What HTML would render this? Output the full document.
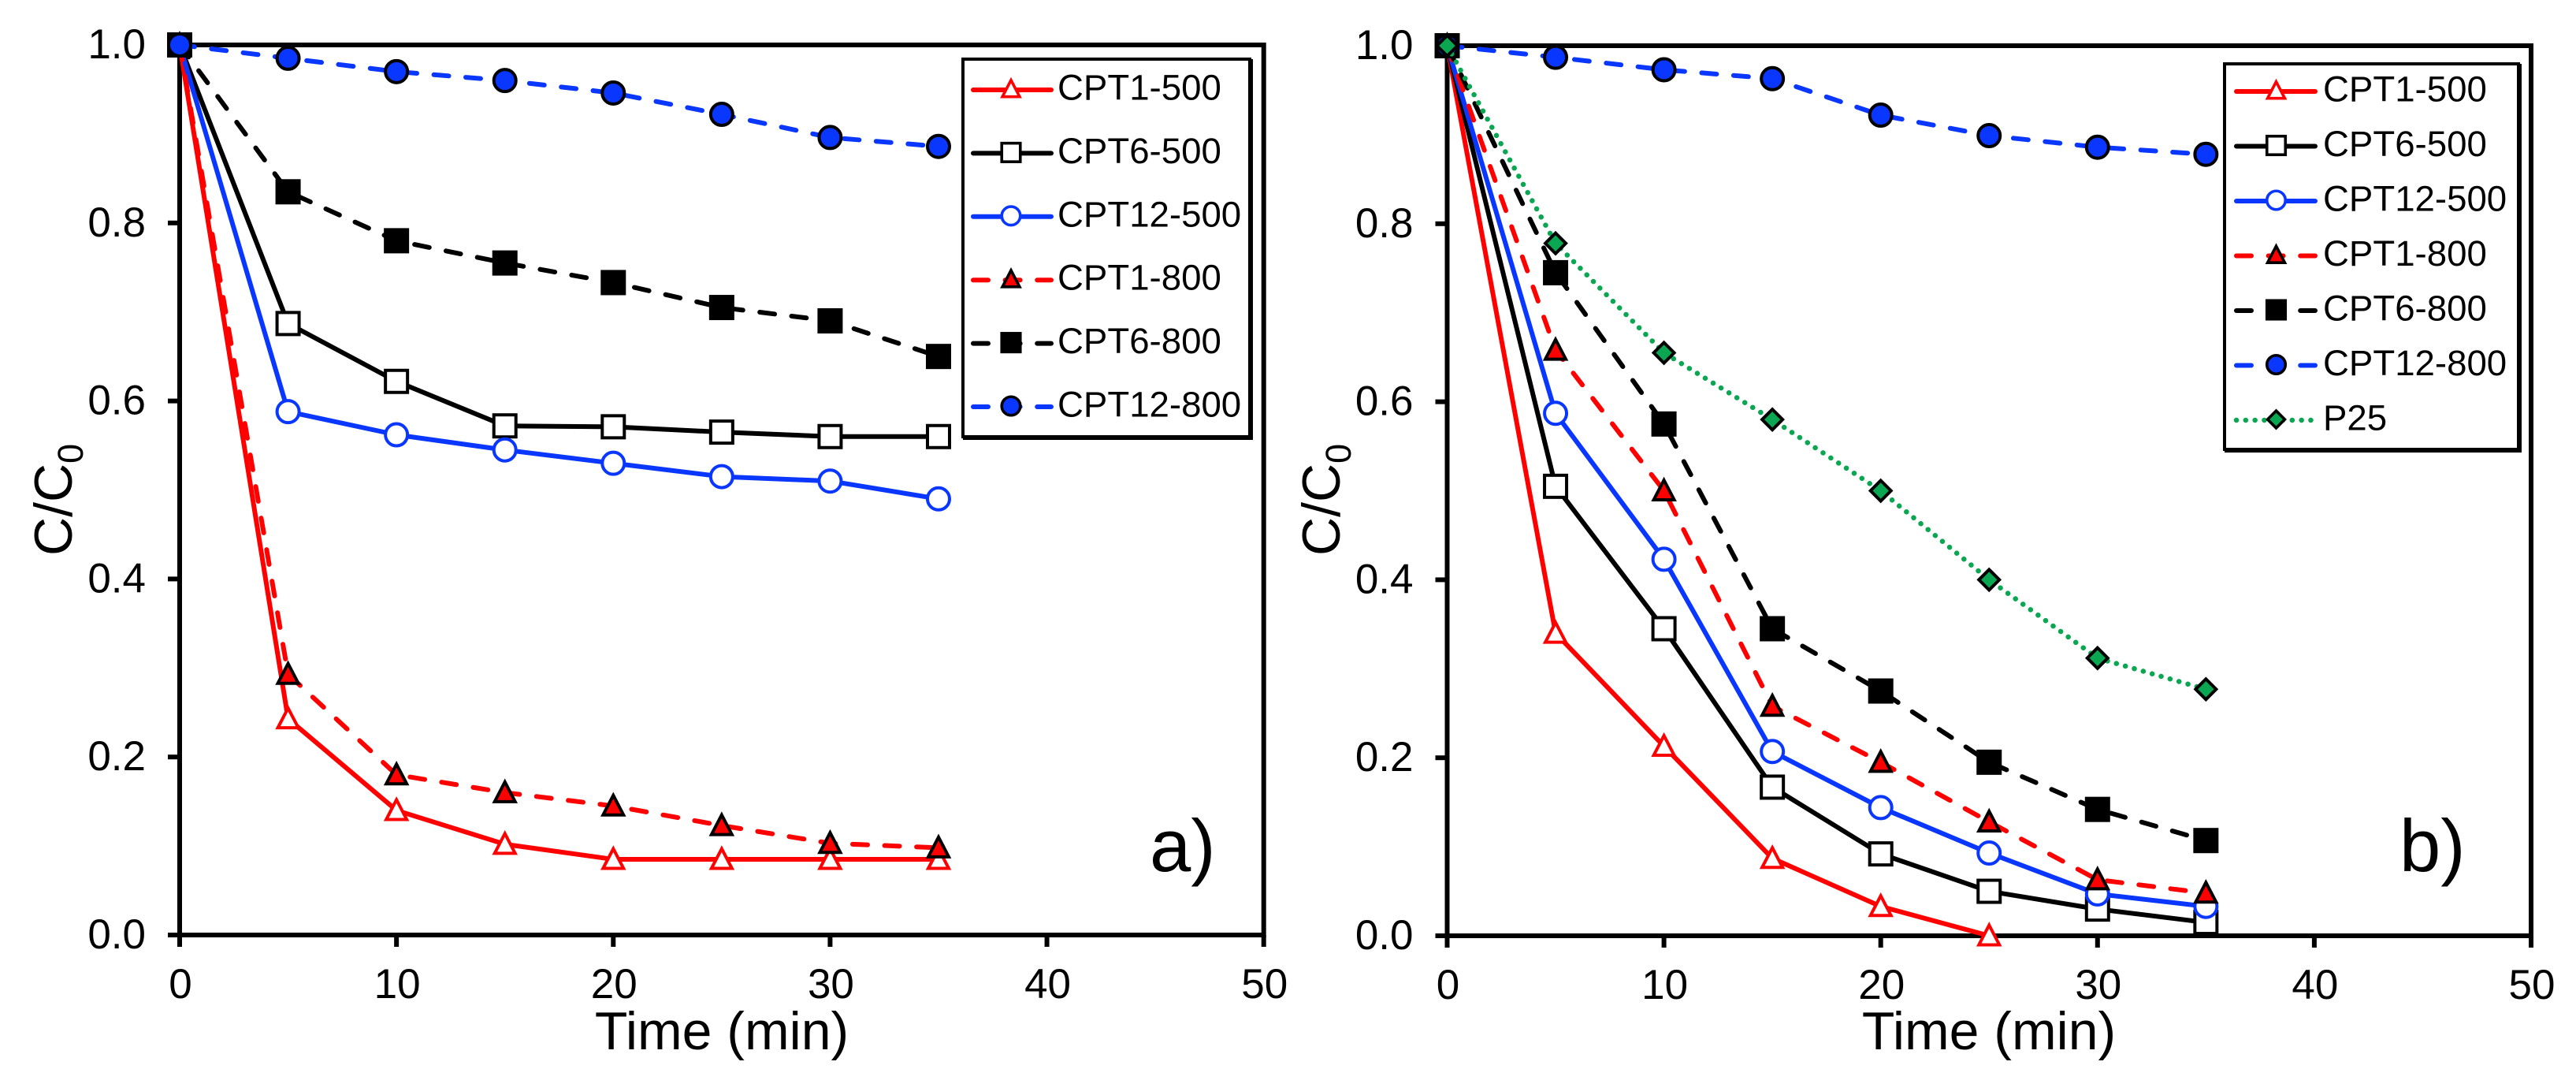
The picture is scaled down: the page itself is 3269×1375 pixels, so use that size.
<!DOCTYPE html>
<html lang="en">
<head>
<meta charset="utf-8">
<title>C/C0 versus time</title>
<style>
html,body{margin:0;padding:0;background:#fff;width:3269px;height:1375px;overflow:hidden}
svg{display:block}
text{font-family:"Liberation Sans",Arial,sans-serif;fill:#000}
</style>
</head>
<body>
<svg id="chart" xmlns="http://www.w3.org/2000/svg" width="3269" height="1375" viewBox="0 0 3269 1375">
  <rect x="0" y="0" width="3269" height="1375" fill="#fff"/>
  <g id="panel-a">
    <g id="a-frame"></g>
    <text transform="translate(91,705) rotate(-90)" font-size="68">C/C<tspan font-size="45" dy="14">0</tspan></text>
    <text x="916" y="1331" font-size="68" text-anchor="middle">Time (min)</text>
    <g id="a-series"></g>
    <g id="a-legend"></g>
    <text x="1459" y="1105" font-size="94">a)</text>
  </g>
  <g id="panel-b">
    <g id="b-frame"></g>
    <text transform="translate(1700,705) rotate(-90)" font-size="68">C/C<tspan font-size="45" dy="14">0</tspan></text>
    <text x="2524" y="1331" font-size="68" text-anchor="middle">Time (min)</text>
    <g id="b-series"></g>
    <g id="b-legend"></g>
    <text x="3045" y="1105" font-size="94">b)</text>
  </g>
</svg>
<script>
// ---- data ----
const times = [0, 5, 10, 15, 20, 25, 30, 35];
const timesB1 = [0, 5, 10, 15, 20, 25];
const xTickValues = [0, 10, 20, 30, 40, 50];
const yTickValues = [0, 0.2, 0.4, 0.6, 0.8, 1];
const yTickLabels = ['0.0', '0.2', '0.4', '0.6', '0.8', '1.0'];

const aCpt1_500 = [1, 0.243, 0.140, 0.102, 0.085, 0.085, 0.085, 0.085];
const aCpt6_500 = [1, 0.687, 0.622, 0.572, 0.571, 0.565, 0.560, 0.560];
const aCpt12_500 = [1, 0.588, 0.562, 0.545, 0.530, 0.515, 0.510, 0.490];
const aCpt1_800 = [1, 0.293, 0.180, 0.160, 0.145, 0.123, 0.103, 0.098];
const aCpt6_800 = [1, 0.835, 0.780, 0.755, 0.733, 0.705, 0.690, 0.650];
const aCpt12_800 = [1, 0.985, 0.970, 0.960, 0.946, 0.922, 0.896, 0.886];

const bCpt1_500 = [1, 0.340, 0.213, 0.087, 0.033, 0.000];
const bCpt6_500 = [1, 0.505, 0.345, 0.167, 0.092, 0.050, 0.030, 0.015];
const bCpt12_500 = [1, 0.587, 0.423, 0.207, 0.144, 0.093, 0.047, 0.033];
const bCpt1_800 = [1, 0.658, 0.500, 0.258, 0.195, 0.128, 0.063, 0.048];
const bCpt6_800 = [1, 0.745, 0.575, 0.345, 0.275, 0.195, 0.142, 0.107];
const bCpt12_800 = [1, 0.987, 0.973, 0.963, 0.922, 0.899, 0.886, 0.878];
const bP25 = [1, 0.778, 0.655, 0.580, 0.500, 0.400, 0.312, 0.277];

const labelsA = ['CPT1-500', 'CPT6-500', 'CPT12-500', 'CPT1-800', 'CPT6-800', 'CPT12-800'];
const labelsB = ['CPT1-500', 'CPT6-500', 'CPT12-500', 'CPT1-800', 'CPT6-800', 'CPT12-800', 'P25'];

// ---- styles ----
const RED = '#ff0000', BLUE = '#0a37ff', BLACK = '#000000', GREEN = '#0aa651';
const DASH = '19 21.6', DOT = '0.1 11.7';
const styleByLabel = {
  'CPT1-500':  {color: RED,   dash: null, shape: 'triangle', fill: '#fff', edge: RED},
  'CPT6-500':  {color: BLACK, dash: null, shape: 'square',   fill: '#fff', edge: BLACK},
  'CPT12-500': {color: BLUE,  dash: null, shape: 'circle',   fill: '#fff', edge: BLUE},
  'CPT1-800':  {color: RED,   dash: DASH, shape: 'triangle', fill: RED,    edge: BLACK},
  'CPT6-800':  {color: BLACK, dash: DASH, shape: 'square',   fill: BLACK,  edge: BLACK},
  'CPT12-800': {color: BLUE,  dash: DASH, shape: 'circle',   fill: BLUE,   edge: BLACK},
  'P25':       {color: GREEN, dash: DOT,  shape: 'diamond',  fill: GREEN,  edge: BLACK}
};

const NS = 'http://www.w3.org/2000/svg';
function make(tag, attrs, parent) {
  const el = document.createElementNS(NS, tag);
  for (const k in attrs) el.setAttribute(k, attrs[k]);
  parent.appendChild(el);
  return el;
}
function slug(label) { return label.toLowerCase(); }

function drawMarker(parent, style, cx, cy, name, s) {
  let el;
  const sw = 4 * (s < 1 ? 0.9 : 1);
  if (style.shape === 'square') {
    const h = 14 * s;
    el = make('rect', {x: cx - h, y: cy - h, width: 2 * h, height: 2 * h, fill: style.fill, stroke: style.edge, 'stroke-width': sw}, parent);
  } else if (style.shape === 'circle') {
    el = make('circle', {cx: cx, cy: cy, r: 14 * s, fill: style.fill, stroke: style.edge, 'stroke-width': sw}, parent);
  } else if (style.shape === 'triangle') {
    const pts = [[cx, cy - 13.5 * s], [cx + 13 * s, cy + 11.5 * s], [cx - 13 * s, cy + 11.5 * s]].map(p => p.join(',')).join(' ');
    el = make('polygon', {points: pts, fill: style.fill, stroke: style.edge, 'stroke-width': sw, 'stroke-miterlimit': 6}, parent);
  } else {
    const d = 13 * s;
    const pts = [[cx, cy - d], [cx + d, cy], [cx, cy + d], [cx - d, cy]].map(p => p.join(',')).join(' ');
    el = make('polygon', {points: pts, fill: style.fill, stroke: style.edge, 'stroke-width': sw}, parent);
  }
  
  
}

function drawAxes(frame, ax) {
  const box = make('rect', {x: ax.x(0), y: ax.y(1), width: ax.x(50) - ax.x(0), height: ax.y(0) - ax.y(1), fill: 'none', stroke: '#000', 'stroke-width': 6}, frame);
  
  
  xTickValues.forEach(v => {
    const t = make('line', {x1: ax.x(v), x2: ax.x(v), y1: ax.y(0), y2: ax.y(0) + 15, stroke: '#000', 'stroke-width': 6}, frame);
    
    
    const l = make('text', {x: ax.x(v) + 1, y: ax.y(0) + 80, 'font-size': 53, 'text-anchor': 'middle'}, frame);
    
    
    l.textContent = String(v);
  });
  yTickValues.forEach((v, i) => {
    const t = make('line', {x1: ax.x(0) - 15, x2: ax.x(0), y1: ax.y(v), y2: ax.y(v), stroke: '#000', 'stroke-width': 6}, frame);
    
    
    const l = make('text', {x: ax.x(0) - 43, y: ax.y(v) + 17, 'font-size': 53, 'text-anchor': 'end'}, frame);
    
    
    l.textContent = yTickLabels[i];
  });
}

function drawSeries(parent, ax, label, xs, ys) {
  const style = styleByLabel[label];
  const g = make('g', {}, parent);
  
  
  const pts = xs.map((t, i) => ax.x(t) + ',' + ax.y(ys[i])).join(' ');
  const line = make('polyline', {points: pts, fill: 'none', stroke: style.color, 'stroke-width': style.dash === DOT ? 6.5 : 6, 'stroke-linejoin': 'round', 'stroke-linecap': 'round'}, g);
  if (style.dash) line.setAttribute('stroke-dasharray', style.dash);
  
  
  xs.forEach((t, i) => {
    drawMarker(g, style, ax.x(t), ax.y(ys[i]), 'point-' + slug(label) + '-t' + t, 1);
  });
}

function drawLegend(parent, box, labels) {
  const bg = make('rect', {x: box.x, y: box.y, width: box.w, height: box.h, fill: '#fff', stroke: '#000', 'stroke-width': 4}, parent);
  
  
  const sr = make('path', {d: 'M' + (box.x + box.w + 1) + ' ' + box.y + 'V' + (box.y + box.h + 1) + 'H' + box.x, fill: 'none', stroke: '#000', 'stroke-width': 6}, parent);
  
  
  labels.forEach((label, i) => {
    const style = styleByLabel[label];
    const cy = box.firstRow + i * box.rowGap;
    const g = make('g', {}, parent);
    
    
    const ln = make('line', {x1: box.lineX1, x2: box.lineX2, y1: cy, y2: cy, stroke: style.color, 'stroke-width': style.dash === DOT ? 6.5 : 6, 'stroke-linecap': 'round'}, g);
    if (style.dash) ln.setAttribute('stroke-dasharray', style.dash);
    
    
    drawMarker(g, style, box.markerX, cy - 1, 'legend-marker', 0.84);
    const t = make('text', {x: box.textX, y: cy + 12.5, 'font-size': 45.6}, g);
    
    
    t.textContent = label;
  });
}

function makeAxis(x0, x50, y0, y1) {
  return {
    x: v => x0 + (x50 - x0) * v / 50,
    y: v => y0 + (y1 - y0) * v
  };
}

// ---- panel a ----
const axA = makeAxis(228, 1603.7, 1186, 57);
drawAxes(document.getElementById('a-frame'), axA);
const aSeries = document.getElementById('a-series');
drawSeries(aSeries, axA, 'CPT1-500', times, aCpt1_500);
drawSeries(aSeries, axA, 'CPT6-500', times, aCpt6_500);
drawSeries(aSeries, axA, 'CPT12-500', times, aCpt12_500);
drawSeries(aSeries, axA, 'CPT1-800', times, aCpt1_800);
drawSeries(aSeries, axA, 'CPT6-800', times, aCpt6_800);
drawSeries(aSeries, axA, 'CPT12-800', times, aCpt12_800);
drawLegend(document.getElementById('a-legend'),
  {x: 1222, y: 75, w: 364, h: 479, firstRow: 114, rowGap: 80.4, lineX1: 1235, lineX2: 1334, markerX: 1283, textX: 1342},
  labelsA);

// ---- panel b ----
const axB = makeAxis(1836.5, 3212, 1187, 58);
drawAxes(document.getElementById('b-frame'), axB);
const bSeries = document.getElementById('b-series');
drawSeries(bSeries, axB, 'CPT1-500', timesB1, bCpt1_500);
drawSeries(bSeries, axB, 'CPT6-500', times, bCpt6_500);
drawSeries(bSeries, axB, 'CPT12-500', times, bCpt12_500);
drawSeries(bSeries, axB, 'CPT1-800', times, bCpt1_800);
drawSeries(bSeries, axB, 'CPT6-800', times, bCpt6_800);
drawSeries(bSeries, axB, 'CPT12-800', times, bCpt12_800);
drawSeries(bSeries, axB, 'P25', times, bP25);
drawLegend(document.getElementById('b-legend'),
  {x: 2823, y: 81, w: 373, h: 489, firstRow: 116, rowGap: 69.5, lineX1: 2838, lineX2: 2938, markerX: 2888.5, textX: 2948},
  labelsB);
</script>
</body>
</html>
